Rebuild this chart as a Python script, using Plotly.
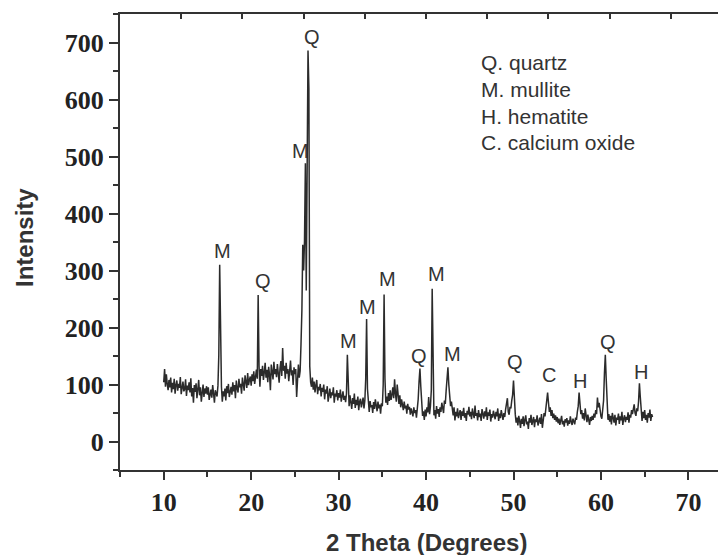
import numpy as np
import plotly.graph_objects as go

# 2-theta grid of the scan (0.1 degree steps, 10.0 to 65.9)
two_theta = np.round(np.arange(10.0, 66.0, 0.1), 1)

# intensity, 5 degrees per list
i_10_15 = [104, 127, 96, 118, 101, 90, 108, 95, 112, 86,
           103, 92, 110, 84, 99, 107, 89, 101, 94, 113,
           83, 97, 105, 88, 92, 109, 80, 98, 90, 104,
           86, 111, 79, 94, 68, 99, 87, 102, 76, 92,
           108, 81, 95, 70, 89, 100, 78, 93, 84, 97]
i_15_20 = [82, 95, 73, 88, 91, 77, 99, 84, 68, 90,
           86, 79, 98, 152, 310, 160, 96, 70, 88, 79,
           93, 72, 97, 85, 101, 78, 90, 96, 82, 104,
           88, 99, 76, 107, 93, 86, 110, 95, 101, 84,
           112, 97, 89, 116, 102, 94, 120, 99, 108, 114]
i_20_25 = [98, 118, 106, 123, 101, 113, 126, 110, 257, 132,
           96, 127, 115, 133, 108, 121, 138, 112, 126, 104,
           131, 117, 90, 135, 122, 109, 140, 118, 127, 113,
           136, 121, 103, 129, 141, 115, 164, 124, 133, 110,
           138, 119, 127, 106, 132, 142, 116, 125, 99, 130]
i_25_30 = [118, 127, 78, 121, 135, 112, 124, 171, 230, 345,
           300, 352, 488, 265, 430, 686, 620, 132, 104, 96,
           112, 91, 105, 86, 99, 108, 83, 96, 90, 101,
           79, 94, 87, 100, 74, 91, 84, 97, 70, 88,
           93, 76, 86, 81, 95, 68, 84, 79, 90, 72]
i_30_35 = [85, 77, 91, 70, 82, 88, 73, 80, 69, 84,
           152, 78, 62, 81, 70, 57, 76, 66, 84, 59,
           73, 64, 79, 55, 70, 75, 60, 68, 77, 58,
           72, 110, 215, 92, 66, 52, 71, 60, 64, 50,
           69, 57, 74, 61, 53, 70, 58, 65, 49, 67]
i_35_40 = [62, 100, 258, 110, 68, 79, 64, 85, 71, 90,
           73, 82, 95, 76, 109, 84, 70, 100, 78, 66,
           81, 60, 74, 66, 55, 70, 58, 63, 49, 66,
           56, 61, 47, 58, 52, 44, 60, 50, 55, 42,
           58, 74, 105, 128, 96, 60, 45, 53, 38, 56]
i_40_45 = [44, 60, 51, 78, 48, 62, 90, 268, 112, 46,
           55, 40, 62, 49, 57, 43, 60, 52, 68, 58,
           50, 72, 66, 90, 110, 130, 100, 84, 62, 70,
           55, 46, 60, 37, 52, 44, 58, 41, 49, 55,
           38, 53, 45, 59, 42, 50, 36, 54, 47, 61]
i_45_50 = [44, 52, 39, 58, 48, 41, 63, 45, 50, 37,
           55, 43, 49, 36, 57, 46, 40, 53, 44, 60,
           38, 51, 45, 56, 35, 48, 42, 54, 47, 39,
           52, 44, 58, 36, 49, 41, 55, 46, 38, 50,
           43, 57, 66, 76, 52, 47, 61, 58, 72, 82]
i_50_55 = [107, 70, 48, 33, 42, 28, 45, 36, 24, 40,
           31, 44, 27, 38, 46, 30, 35, 22, 41, 33,
           47, 29, 37, 43, 25, 39, 34, 46, 28, 36,
           42, 31, 48, 24, 38, 50, 44, 58, 62, 86,
           68, 52, 60, 45, 55, 41, 49, 38, 46, 35]
i_55_60 = [43, 32, 40, 29, 37, 45, 30, 36, 26, 39,
           33, 41, 28, 37, 31, 44, 35, 29, 40, 34,
           30, 42, 38, 52, 62, 86, 66, 48, 55, 40,
           50, 37, 58, 44, 34, 47, 39, 29, 43, 36,
           45, 38, 49, 42, 55, 48, 77, 60, 68, 52]
i_60_66 = [44, 40, 58, 72, 120, 152, 110, 62, 38, 48,
           35, 45, 30, 50, 41, 33, 47, 28, 42, 38,
           49, 31, 44, 37, 52, 29, 40, 46, 34, 43,
           38, 51, 33, 47, 42, 55, 48, 60, 65, 50,
           45, 58, 53, 70, 102, 78, 49, 36, 52, 41,
           55, 38, 47, 33, 50, 42, 56, 36, 48, 43]

intensity = (i_10_15 + i_15_20 + i_20_25 + i_25_30 + i_30_35 + i_35_40
             + i_40_45 + i_45_50 + i_50_55 + i_55_60 + i_60_66)

# phase letters above the peaks
peak_labels = ["M", "Q", "M", "Q", "M", "M", "M", "Q", "M", "M", "Q", "C", "H", "Q", "H"]
peak_x = [16.7, 21.4, 25.6, 27.0, 31.1, 33.3, 35.6, 39.2, 41.2, 43.0, 50.2, 54.1, 57.6, 60.8, 64.6]
peak_y = [312, 259, 486, 686, 153, 213, 263, 128, 271, 130, 116, 93, 83, 151, 100]

key_lines = ["Q. quartz", "M. mullite", "H. hematite", "C. calcium oxide"]

ink = "#333333"

fig = go.Figure()
fig.add_trace(go.Scatter(x=two_theta, y=intensity, mode="lines",
                         line=dict(color="#2b2b2b", width=1.5), showlegend=False))
# empty trace so the top / right frame axes get drawn
fig.add_trace(go.Scatter(x=[None], y=[None], xaxis="x2", yaxis="y2",
                         showlegend=False, hoverinfo="skip"))

for lab, x, y in zip(peak_labels, peak_x, peak_y):
    fig.add_annotation(x=x, y=y, text=lab, showarrow=False, yanchor="bottom",
                       font=dict(family="Liberation Sans, Arial", size=20, color=ink))

for k, line in enumerate(key_lines):
    fig.add_annotation(xref="paper", yref="paper", x=(479 - 120) / 606,
                       y=1 - (63 + 26.5 * k - 14) / 456, text=line, showarrow=False,
                       xanchor="left", yanchor="middle",
                       font=dict(family="Liberation Sans, Arial", size=21, color=ink))

# axis titles placed by hand, like the original
fig.add_annotation(xref="paper", yref="paper", x=(426 - 120) / 606, y=-(542 - 470) / 456,
                   text="<b>2 Theta (Degrees)</b>", showarrow=False, yanchor="middle",
                   font=dict(family="Liberation Sans, Arial", size=24, color=ink))
fig.add_annotation(xref="paper", yref="paper", x=-(120 - 24) / 606, y=(470 - 238) / 456,
                   text="<b>Intensity</b>", showarrow=False, textangle=-90,
                   xanchor="center", yanchor="middle",
                   font=dict(family="Liberation Sans, Arial", size=24, color=ink))

tickfont = dict(family="Liberation Serif, Times New Roman", size=26, color="#222222")

# page body adds an 8px offset, so the figure is 8px smaller and margins shifted
fig.update_layout(
    width=718, height=547,
    margin=dict(l=112, r=0, t=6, b=85),
    paper_bgcolor="white", plot_bgcolor="white",
    xaxis=dict(range=[5, 74.3], tick0=10, dtick=10, ticks="outside", ticklen=8,
               tickwidth=1.5, tickcolor=ink, showline=True, linewidth=2, linecolor=ink,
               showgrid=False, zeroline=False, tickfont=tickfont, automargin=False,
               tickprefix="<b>", ticksuffix="</b>",
               minor=dict(ticks="outside", ticklen=5, tickwidth=1.5, tickcolor=ink,
                          dtick=5, tick0=5, showgrid=False)),
    yaxis=dict(range=[-50, 750], tick0=0, dtick=100, ticks="outside", ticklen=9,
               tickwidth=1.5, tickcolor=ink, showline=True, linewidth=2, linecolor=ink,
               showgrid=False, zeroline=False, tickfont=tickfont, automargin=False,
               tickprefix="<b>", ticksuffix="</b>",
               minor=dict(ticks="outside", ticklen=5, tickwidth=1.5, tickcolor=ink,
                          dtick=50, tick0=50, showgrid=False)),
    xaxis2=dict(overlaying="x", side="top", range=[5, 74.3], tick0=5, dtick=7,
                ticks="inside", ticklen=5, tickwidth=1.5, tickcolor=ink, automargin=False,
                showline=True, linewidth=2, linecolor=ink, showticklabels=False,
                showgrid=False, zeroline=False),
    yaxis2=dict(overlaying="y", side="right", range=[-50, 750], tickvals=[109, 589],
                ticks="inside", ticklen=5, tickwidth=1.5, tickcolor=ink, automargin=False,
                showline=False, showticklabels=False, showgrid=False, zeroline=False),
)

fig.write_html("out.html")
